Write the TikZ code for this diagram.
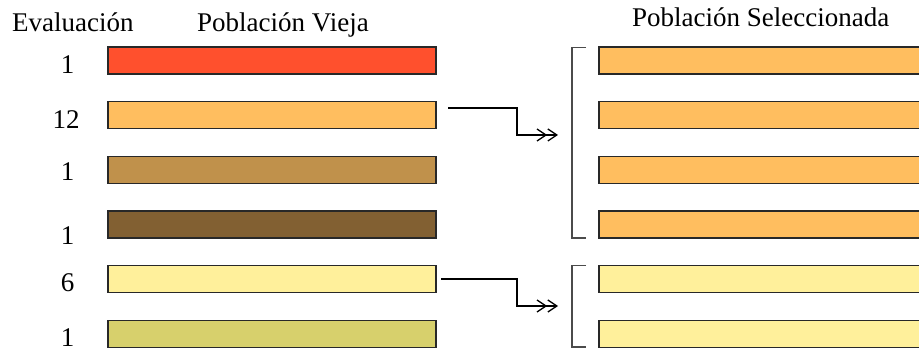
\documentclass[tikz,border=0pt]{standalone}
\usepackage{fontspec}
\setmainfont{Liberation Serif}
\usetikzlibrary{arrows.meta}
\definecolor{cA}{RGB}{255,80,45}
\definecolor{cB}{RGB}{255,190,95}
\definecolor{cC}{RGB}{192,145,75}
\definecolor{cD}{RGB}{130,96,50}
\definecolor{cE}{RGB}{255,240,155}
\definecolor{cF}{RGB}{215,208,108}
\definecolor{edge}{RGB}{40,40,40}
\definecolor{brk}{RGB}{75,75,75}
\tikzset{
  bar/.style={draw=edge, line width=1.4pt, minimum width=328pt, minimum height=27pt, inner sep=0pt, outer sep=0pt},
  rbar/.style={draw=edge, line width=1.4pt, minimum width=340pt, minimum height=27pt, inner sep=0pt, outer sep=0pt, anchor=west},
  lbl/.style={font=\fontsize{27}{30}\selectfont, inner sep=0pt, anchor=base},
  brack/.style={draw=brk, line width=1.6pt},
  conn/.style={draw=black, line width=1.3pt, -{Straight Barb[length=9pt,width=12pt]Straight Barb[length=9pt,width=12pt]}},
}
\begin{document}
\begin{tikzpicture}[x=1pt,y=-1pt]
\clip (0,0) rectangle (919,352);
\fill[white] (0,0) rectangle (919,352);
% titles
\node[lbl, anchor=base west] (tEval) at (12,32) {Evaluación};
\node[lbl, anchor=base west] (tVieja) at (197,32) {Población Vieja};
\node[lbl, anchor=base west] (tSel) at (632,27) {Población Seleccionada};
% old population
\node[bar, fill=cA] (l1) at (272,60.5) {};
\node[bar, fill=cB] (l2) at (272,115) {};
\node[bar, fill=cC] (l3) at (272,170) {};
\node[bar, fill=cD] (l4) at (272,224.5) {};
\node[bar, fill=cE] (l5) at (272,279) {};
\node[bar, fill=cF] (l6) at (272,334) {};
% evaluations
\node[lbl] (e1) at (67.5,74) {1};
\node[lbl] (e2) at (66,129) {12};
\node[lbl] (e3) at (67.5,181) {1};
\node[lbl] (e4) at (67.5,245) {1};
\node[lbl] (e5) at (67.5,291.5) {6};
\node[lbl] (e6) at (67.5,346.5) {1};
% selected population
\node[rbar, fill=cB] (r1) at (599,60.5) {};
\node[rbar, fill=cB] (r2) at (599,115) {};
\node[rbar, fill=cB] (r3) at (599,170) {};
\node[rbar, fill=cB] (r4) at (599,224.5) {};
\node[rbar, fill=cE] (r5) at (599,279) {};
\node[rbar, fill=cE] (r6) at (599,334) {};
% brackets
\coordinate (b1t) at (586,47.5);
\coordinate (b1b) at (586,238);
\coordinate (b2t) at (586,265.5);
\coordinate (b2b) at (586,347);
\draw[brack] (b1t) -- (572,47.5) -- (572,238) -- (b1b);
\draw[brack] (b2t) -- (572,265.5) -- (572,347) -- (b2b);
% connectors
\coordinate (s1) at (448,108);
\coordinate (t1) at (558,135);
\coordinate (s2) at (441,279);
\coordinate (t2) at (558,306);
\draw[conn] (s1) -- (517,108) -- (517,135) -- (t1);
\draw[conn] (s2) -- (517,279) -- (517,306) -- (t2);
\end{tikzpicture}
\end{document}
